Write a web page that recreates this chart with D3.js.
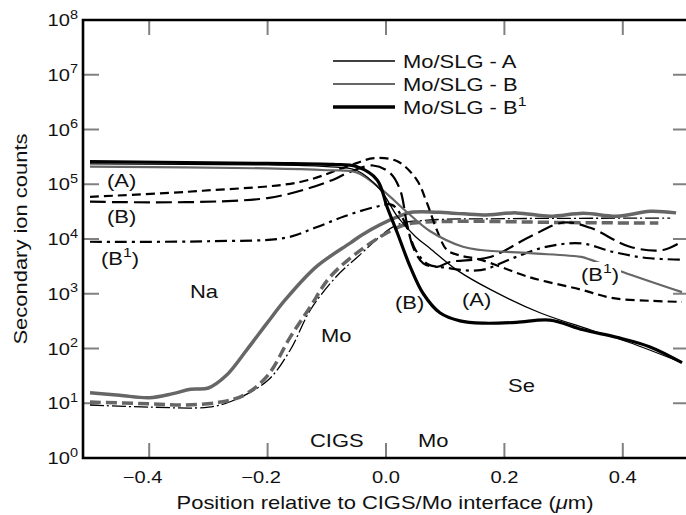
<!DOCTYPE html>
<html>
<head>
<meta charset="utf-8">
<script src="https://cdn.jsdelivr.net/npm/d3@7"></script>
<style>
  body { margin: 0; background: #fff; }
  svg text { font-family: "Liberation Sans", Arial, Helvetica, sans-serif; fill: #111; }
</style>
</head>
<body>
<div id="chart"></div>
<script>
// ---- data (x in µm, y in counts) ----

// Se profiles (solid)
let seA  = [[-0.5,2.35e5],[-0.2,2.25e5],[-0.1,2.1e5],[-0.05,1.8e5],[-0.01,8e4],[0.02,2.5e4],[0.05,1.1e4],
            [0.074,6.8e3],[0.12,2.7e3],[0.176,1.2e3],[0.26,450],[0.345,220],[0.41,130],[0.5,55]];
let seB  = [[-0.5,2.1e5],[-0.2,1.95e5],[-0.1,1.8e5],[-0.05,1.65e5],[-0.01,8.5e4],[0.04,2.8e4],[0.074,1.4e4],
            [0.13,7.2e3],[0.16,6.3e3],[0.243,5.5e3],[0.33,4.7e3],[0.345,4.2e3],[0.4,2.5e3],[0.5,1.07e3]];
let seB1 = [[-0.5,2.6e5],[-0.2,2.4e5],[-0.09,2.3e5],[-0.05,2.1e5],[-0.015,1.2e5],[0.002,3.8e4],[0.019,1.3e4],
            [0.041,3.1e3],[0.063,1.0e3],[0.091,450],[0.125,320],[0.165,290],[0.22,300],[0.277,330],
            [0.333,220],[0.39,160],[0.446,107],[0.5,55]];

// Na profiles (dashed)
let naA  = [[-0.5,5.9e4],[-0.31,7.6e4],[-0.145,1.1e5],[-0.066,2.1e5],[-0.02,3.0e5],[0.02,2.6e5],[0.052,1.2e5],
            [0.069,4.6e4],[0.086,1.45e4],[0.103,6.3e3],[0.125,5.0e3],[0.159,4.2e3],[0.243,2.0e3],
            [0.328,1.2e3],[0.384,830],[0.45,740],[0.5,710]];
let naB  = [[-0.5,4.8e4],[-0.2,5.6e4],[-0.09,1.2e5],[-0.066,1.6e5],[-0.022,2.2e5],[0.007,1.6e5],[0.024,7.8e4],
            [0.035,2.0e4],[0.046,7.0e3],[0.063,3.6e3],[0.086,3.1e3],[0.108,3.8e3],[0.176,4.7e3],
            [0.243,1.1e4],[0.3,2.0e4],[0.345,1.6e4],[0.412,7.2e3],[0.468,6.3e3],[0.5,9e3]];
let naB1 = [[-0.5,8.9e3],[-0.3,9.1e3],[-0.17,1.05e4],[-0.12,1.6e4],[-0.07,2.6e4],[-0.02,3.8e4],[0.01,4.2e4],
            [0.03,2.2e4],[0.05,6.3e3],[0.07,3.5e3],[0.1,3.0e3],[0.16,2.7e3],[0.215,4.5e3],[0.27,7.2e3],
            [0.33,8.3e3],[0.384,5.8e3],[0.44,4.5e3],[0.5,4.2e3]];

// Mo profiles
let moGray   = [[-0.5,15.5],[-0.45,14],[-0.4,12.6],[-0.36,15],[-0.33,18],[-0.3,19],[-0.27,32],[-0.235,95],
                [-0.2,300],[-0.17,780],[-0.118,3.1e3],[-0.06,8.5e3],[-0.04,1.2e4],[0.018,2.5e4],[0.046,3.1e4],
                [0.108,3.0e4],[0.164,2.75e4],[0.22,3.0e4],[0.277,2.6e4],[0.333,2.95e4],[0.39,2.6e4],
                [0.446,3.2e4],[0.49,3.0e4]];
let moDashed = [[-0.5,10.5],[-0.4,9.8],[-0.34,9.3],[-0.28,10.5],[-0.24,14],[-0.2,32],[-0.162,160],[-0.128,575],
                [-0.095,2.0e3],[-0.04,6.6e3],[0.018,1.6e4],[0.046,1.95e4],[0.12,2.1e4],[0.3,2.0e4],[0.46,1.95e4]];
let moThin   = [[-0.5,9.3],[-0.4,8.5],[-0.3,8.5],[-0.26,11],[-0.2,26],[-0.162,93],[-0.128,500],[-0.085,2.0e3],
                [-0.05,4.5e3],[0.018,1.8e4],[0.07,2.2e4],[0.2,2.35e4],[0.48,2.4e4]];

let xTicks = [-0.4, -0.2, 0.0, 0.2, 0.4];
let yExps = [0, 1, 2, 3, 4, 5, 6, 7, 8];
let legendNames = [["Mo/SLG - A", ""], ["Mo/SLG - B", ""], ["Mo/SLG - B", "1"]];

// ---- layout ----
let W = 686, H = 515;
let frame = {left: 83, top: 20, bottom: 458, right: 690};
let SX = 1.22;   // the reference type is set wide
let gray = "#666";

let svg = d3.select("#chart").append("svg")
    .attr("width", W)
    .attr("height", H);

let x = d3.scaleLinear().domain([-0.5, 0.5]).range([90, 682]);
let y = d3.scaleLog().domain([1, 1e8]).range([frame.bottom, frame.top]);

let line = d3.line()
    .x(d => x(d[0]))
    .y(d => y(d[1]))
    .curve(d3.curveCatmullRom.alpha(0.5));

// text helper: parts = [[text, kind]], kind 1 = superscript, 2 = italic
function addText(parent, px, py, parts, size, anchor, rot) {
    let t = parent.append("text")
        .attr("transform", `translate(${px},${py})` + (rot ? " rotate(-90)" : "") + ` scale(${SX},1)`)
        .attr("text-anchor", anchor || "start")
        .style("font-size", size + "px");
    let raised = false;
    parts.forEach(p => {
        let ts = t.append("tspan").text(p[0]);
        if (p[1] === 1 && !raised) { ts.attr("dy", -size * 0.45).style("font-size", (size * 0.72) + "px"); raised = true; }
        else if (p[1] !== 1 && raised) { ts.attr("dy", size * 0.45); raised = false; }
        if (p[1] === 2) ts.style("font-style", "italic");
    });
    return t;
}

// ---- ticks (inward, grey) ----
let tickG = svg.append("g").attr("stroke", "#808080").attr("stroke-width", 2);
tickG.selectAll(".xb").data(xTicks).enter().append("line")
    .attr("x1", d => x(d)).attr("x2", d => x(d))
    .attr("y1", frame.bottom).attr("y2", frame.bottom - 15);
tickG.selectAll(".xt").data(xTicks).enter().append("line")
    .attr("x1", d => x(d)).attr("x2", d => x(d))
    .attr("y1", frame.top).attr("y2", frame.top + 15);
tickG.selectAll(".yl").data(yExps.slice(1, 8)).enter().append("line")
    .attr("x1", frame.left).attr("x2", frame.left + 16)
    .attr("y1", d => y(Math.pow(10, d))).attr("y2", d => y(Math.pow(10, d)));
tickG.selectAll(".yr").data(yExps.slice(1, 8)).enter().append("line")
    .attr("x1", 673).attr("x2", W)
    .attr("y1", d => y(Math.pow(10, d))).attr("y2", d => y(Math.pow(10, d)));

// ---- frame ----
svg.append("path")
    .attr("d", `M${frame.right},${frame.top}H${frame.left}V${frame.bottom}H${frame.right}`)
    .attr("fill", "none")
    .attr("stroke", "#000")
    .attr("stroke-width", 2.6);

// ---- tick labels ----
xTicks.forEach(d => {
    let s = d3.format(".1f")(Math.abs(d));
    addText(svg, x(d) - (d < 0 ? 6.5 : 0), 483, [[(d < 0 ? "\u2212" : "") + s, 0]], 16.5, "middle");
});
yExps.forEach(e => {
    addText(svg, 78, y(Math.pow(10, e)) + 6, [["10", 0], [String(e), 1]], 16.5, "end");
});

// axis titles
addText(svg, 385, 509, [["Position relative to CIGS/Mo interface (", 0], ["\u03bc", 2], ["m)", 0]], 18, "middle");
addText(svg, 27, 239, [["Secondary ion counts", 0]], 18, "middle", true);

// ---- curves ----
let series = [
    {data: moThin,   color: "#000", width: 1.3, dash: "14,3,2,3"},
    {data: moDashed, color: gray,   width: 3.5, dash: "11,5"},
    {data: moGray,   color: gray,   width: 3.5, dash: null},
    {data: naA,      color: "#000", width: 2.2, dash: "9,5"},
    {data: naB,      color: "#000", width: 2.2, dash: "16,6"},
    {data: naB1,     color: "#000", width: 2.2, dash: "12,5,3,5"},
    {data: seB,      color: gray,   width: 2.2, dash: null},
    {data: seA,      color: "#000", width: 1.3, dash: null},
    {data: seB1,     color: "#000", width: 3.2, dash: null}
];

svg.append("g").selectAll("path")
    .data(series)
    .enter()
    .append("path")
    .attr("d", d => line(d.data))
    .attr("fill", "none")
    .attr("stroke", d => d.color)
    .attr("stroke-width", d => d.width)
    .attr("stroke-dasharray", d => d.dash)
    .attr("stroke-linejoin", "round");

// ---- annotations ----
let notes = svg.append("g");
addText(notes, 107, 187, [["(A)", 0]], 18);
addText(notes, 107, 223, [["(B)", 0]], 18);
addText(notes, 101, 265, [["(B", 0], ["1", 1], [")", 0]], 18);
addText(notes, 190, 298, [["Na", 0]], 18);
addText(notes, 321, 342, [["Mo", 0]], 18);
addText(notes, 310, 447, [["CIGS", 0]], 18);
addText(notes, 418, 447, [["Mo", 0]], 18);
addText(notes, 395, 309, [["(B)", 0]], 18);
addText(notes, 462, 306, [["(A)", 0]], 18);
notes.append("rect").attr("x", 581).attr("y", 262).attr("width", 40).attr("height", 24).attr("fill", "#fff");
addText(notes, 581, 281, [["(B", 0], ["1", 1], [")", 0]], 18);
addText(notes, 508, 392, [["Se", 0]], 18);

// ---- legend ----
let legend = svg.append("g");
let legendStyle = [{color: "#000", width: 1.3}, {color: gray, width: 2.2}, {color: "#000", width: 3.6}];
let legendY = [61, 84, 107];
legend.selectAll("line")
    .data(legendStyle)
    .enter()
    .append("line")
    .attr("x1", 333).attr("x2", 395)
    .attr("y1", (d, i) => legendY[i]).attr("y2", (d, i) => legendY[i])
    .attr("stroke", d => d.color)
    .attr("stroke-width", d => d.width);
legendNames.forEach((n, i) => {
    addText(legend, 403, legendY[i] + 7, [[n[0], 0], [n[1], 1]], 18);
});
</script>
</body>
</html>
